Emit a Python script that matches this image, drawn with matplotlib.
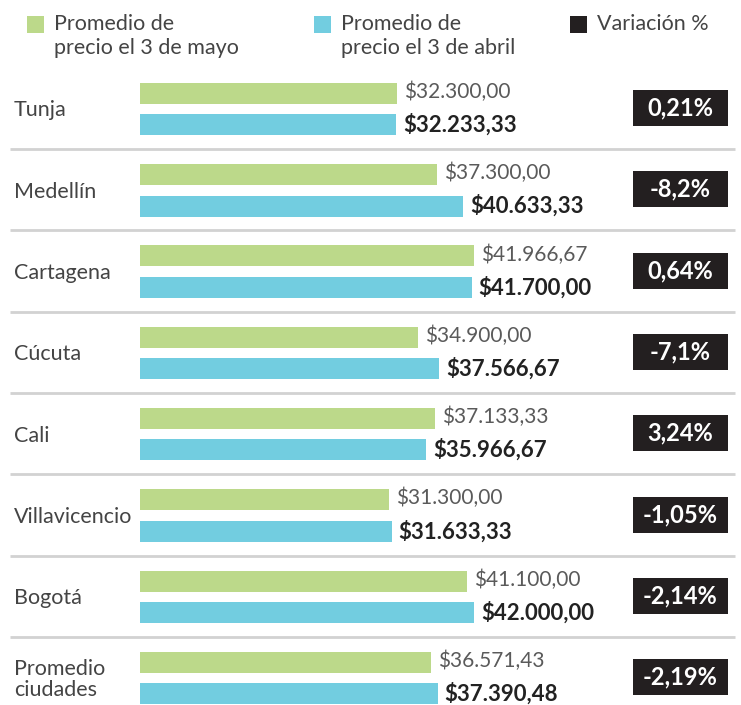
import matplotlib
matplotlib.use("Agg")
import matplotlib.pyplot as plt
from matplotlib.patches import Rectangle
from matplotlib.transforms import blended_transform_factory

cities = ["Tunja", "Medellín", "Cartagena", "Cúcuta", "Cali", "Villavicencio", "Bogotá", "Promedio\nciudades"]
mayo = [32300.00, 37300.00, 41966.67, 34900.00, 37133.33, 31300.00, 41100.00, 36571.43]
abril = [32233.33, 40633.33, 41700.00, 37566.67, 35966.67, 31633.33, 42000.00, 37390.48]
variacion = ["0,21%", "-8,2%", "0,64%", "-7,1%", "3,24%", "-1,05%", "-2,14%", "-2,19%"]
legend_labels = ["Promedio de\nprecio el 3 de mayo", "Promedio de\nprecio el 3 de abril", "Variación %"]

GREEN = "#bcd98a"
BLUE = "#72cde0"
BLACK = "#231f20"
TEXT = "#444444"
FONT = "Lato"

def fmt(v):
    s = f"{v:,.2f}"
    s = s.replace(",", "X").replace(".", ",").replace("X", ".")
    return "$" + s

W, H = 741, 705
fig = plt.figure(figsize=(W / 100, H / 100), dpi=100)
fig.patch.set_facecolor("white")

px_per_unit = 257 / 32300.0
x0 = 140
ax = fig.add_axes([x0 / W, 0, (W - x0) / W, 1])
ax.set_xlim(0, (W - x0) / px_per_unit)
pitch = 81.3
c0 = 109
ax.set_ylim((H - c0) / pitch, -c0 / pitch)
ax.axis("off")

n = len(cities)
ys = list(range(n))
bh = 21 / pitch
off = 15.7 / pitch
ax.barh([y - off for y in ys], mayo, height=bh, color=GREEN, left=0)
ax.barh([y + off for y in ys], abril, height=bh, color=BLUE, left=0)

lab_off = 7 / px_per_unit
for y, m, a in zip(ys, mayo, abril):
    ax.text(m + lab_off, y - off - 1.5 / pitch, fmt(m), va="center", ha="left", fontsize=15,
            fontfamily=FONT, fontweight="normal", color="#5a5a5a")
    ax.text(a + lab_off, y + off, fmt(a), va="center", ha="left", fontsize=16,
            fontfamily=FONT, fontweight="bold", color="#222222")

bt = blended_transform_factory(fig.transFigure, ax.transData)
# separators
for y in ys[:-1]:
    ax.plot([10 / W, 735 / W], [y + 40 / pitch] * 2, transform=bt, color="#d2d2d2",
            lw=2, clip_on=False, solid_capstyle="butt")

# city labels
for y, c in zip(ys, cities):
    ax.text(14 / W, y + 1.5 / pitch, c, transform=bt, va="center", ha="left", fontsize=15.5,
            fontfamily=FONT, color=TEXT, linespacing=1.1)

# variation boxes
bw = 95 / W
bhh = 36 / pitch
for y, v in zip(ys, variacion):
    yc = y - 1 / pitch
    ax.add_patch(Rectangle((633 / W, yc - bhh / 2), bw, bhh, transform=bt,
                           facecolor=BLACK, edgecolor="none", clip_on=False))
    ax.text((633 + 47.5) / W, yc, v, transform=bt, va="center", ha="center",
            fontsize=17, fontfamily=FONT, fontweight="bold", color="white")

# legend
leg_x = [27, 314, 570]
leg_c = [GREEN, BLUE, BLACK]
for lx, lc, lt in zip(leg_x, leg_c, legend_labels):
    fig.patches.append(Rectangle((lx / W, 1 - 33 / H), 17 / W, 17 / H,
                                 transform=fig.transFigure, facecolor=lc,
                                 edgecolor="none"))
    fig.text((lx + 27) / W, 1 - 14 / H, lt, va="top", ha="left", fontsize=15.5,
             fontfamily=FONT, color=TEXT, linespacing=1.22)

fig.savefig("out.png", dpi=100, facecolor="white")
